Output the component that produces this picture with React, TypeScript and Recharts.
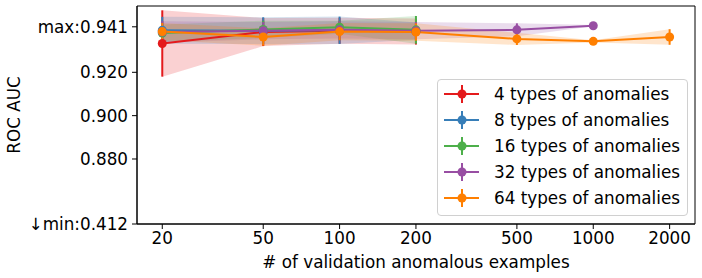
import React from "react"
import {
  ComposedChart,
  Line,
  Area,
  XAxis,
  YAxis,
  ErrorBar,
  ReferenceArea,
  Legend,
  Label,
} from "recharts"

// number of validation anomalous examples, per series
const xRed = [20, 50, 100, 200]
const xBlue = [20, 50, 100, 200]
const xGreen = [20, 50, 100, 200]
const xPurple = [20, 50, 100, 200, 500, 1000]
const xOrange = [20, 50, 100, 200, 500, 1000, 2000]

// mean ROC AUC
const meanRed = [0.9333, 0.9386, 0.9392, 0.9388]
const meanBlue = [0.9394, 0.9392, 0.9394, 0.939]
const meanGreen = [0.9381, 0.9398, 0.9408, 0.9396]
const meanPurple = [0.9386, 0.9392, 0.9396, 0.9392, 0.9396, 0.9415]
const meanOrange = [0.9388, 0.9363, 0.9388, 0.9386, 0.9354, 0.9343, 0.9363]

// std (error bar half-length)
const errRed = [0.0153, 0.0065, 0.006, 0.006]
const errBlue = [0.0062, 0.0062, 0.0063, 0.004]
const errGreen = [0.004, 0.004, 0.003, 0.0064]
const errPurple = [0.005, 0.004, 0.004, 0.004, 0.003, 0.0003]
const errOrange = [0.004, 0.004, 0.004, 0.004, 0.0028, 0.0005, 0.0036]

const names = [
  "4 types of anomalies",
  "8 types of anomalies",
  "16 types of anomalies",
  "32 types of anomalies",
  "64 types of anomalies",
]
const colors = ["#e41a1c", "#377eb8", "#4daf4a", "#984ea3", "#ff7f00"]

const xTicks = [20, 50, 100, 200, 500, 1000, 2000]
const xMinorTicks = [30, 40, 60, 70, 80, 90, 300, 400, 600, 700, 800, 900]
const yTicks = [0.85, 0.88, 0.9, 0.92, 0.941]
const yTickLabels: Record<string, string> = {
  "0.85": "↓min:0.412",
  "0.88": "0.880",
  "0.9": "0.900",
  "0.92": "0.920",
  "0.941": "max:0.941",
}

const toRows = (xs: number[], m: number[], e: number[]) =>
  xs.map((x, i) => ({ x, y: m[i], err: e[i], band: [m[i] - e[i], m[i] + e[i]] }))

const series = [
  toRows(xRed, meanRed, errRed),
  toRows(xBlue, meanBlue, errBlue),
  toRows(xGreen, meanGreen, errGreen),
  toRows(xPurple, meanPurple, errPurple),
  toRows(xOrange, meanOrange, errOrange),
]

const FONT = "DejaVu Sans, sans-serif"
const FS = 16.8
const X_DOMAIN = [15.9, 2518]
const Y_DOMAIN = [0.85, 0.9506]

function LegendBox() {
  return (
    <div
      style={{
        boxSizing: "border-box",
        width: 251,
        height: 137,
        border: "1px solid #d0d0d0",
        borderRadius: 4,
        background: "rgba(255,255,255,0.8)",
        paddingTop: 1,
        fontFamily: FONT,
        fontSize: FS,
        color: "#000",
      }}
    >
      {names.map((n, i) => (
        <div key={n} style={{ height: 26, display: "flex", alignItems: "center" }}>
          <svg width={56} height={26} style={{ flex: "none" }}>
            <line x1={6} x2={41} y1={13} y2={13} stroke={colors[i]} strokeWidth={2} />
            <line x1={24} x2={24} y1={4} y2={22} stroke={colors[i]} strokeWidth={2} />
            <circle cx={24} cy={13} r={4.5} fill={colors[i]} />
          </svg>
          <span style={{ whiteSpace: "nowrap" }}>{n}</span>
        </div>
      ))}
    </div>
  )
}

export default function App() {
  return (
    <div style={{ position: "absolute", left: 0, top: 0, background: "#fff" }}>
      <ComposedChart width={702} height={278} margin={{ top: 6, right: 7, left: 0, bottom: 0 }}>
        <XAxis
          xAxisId="minor"
          type="number"
          scale="log"
          dataKey="x"
          domain={X_DOMAIN}
          allowDataOverflow
          ticks={xMinorTicks}
          tick={false}
          tickSize={3}
          tickLine={{ stroke: "#000" }}
          axisLine={false}
          height={0}
        />
        <XAxis
          type="number"
          scale="log"
          dataKey="x"
          domain={X_DOMAIN}
          allowDataOverflow
          ticks={xTicks}
          interval={0}
          tickSize={5}
          tickMargin={3}
          tick={{ fill: "#000", fontSize: FS, fontFamily: FONT }}
          tickLine={{ stroke: "#000" }}
          axisLine={{ stroke: "#000" }}
          height={54}
        >
          <Label
            value="# of validation anomalous examples"
            position="insideBottom"
            offset={10}
            style={{ fill: "#000", fontSize: FS, fontFamily: FONT }}
          />
        </XAxis>
        <YAxis
          type="number"
          domain={Y_DOMAIN}
          allowDataOverflow
          ticks={yTicks}
          interval={0}
          width={137}
          tickSize={5}
          tickMargin={4}
          tickFormatter={(v: number) => yTickLabels[String(v)] ?? String(v)}
          tick={{ fill: "#000", fontSize: FS, fontFamily: FONT }}
          tickLine={{ stroke: "#000" }}
          axisLine={{ stroke: "#000" }}
        >
          <Label
            value="ROC AUC"
            angle={-90}
            position="insideLeft"
            offset={14}
            style={{ fill: "#000", fontSize: FS, fontFamily: FONT, textAnchor: "middle" }}
          />
        </YAxis>

        {series.map((d, i) => (
          <Area
            key={"band" + i}
            data={d}
            dataKey="band"
            type="linear"
            stroke="none"
            fill={colors[i]}
            fillOpacity={0.2}
            isAnimationActive={false}
            legendType="none"
          />
        ))}
        {series.map((d, i) => (
          <Line
            key={"line" + i}
            data={d}
            dataKey="y"
            name={names[i]}
            type="linear"
            stroke={colors[i]}
            strokeWidth={2}
            dot={{ r: 4.5, fill: colors[i], stroke: colors[i], strokeWidth: 0 }}
            activeDot={false}
            isAnimationActive={false}
          >
            <ErrorBar dataKey="err" width={0} stroke={colors[i]} strokeWidth={2} direction="y" />
          </Line>
        ))}

        <ReferenceArea
          x1={X_DOMAIN[0]}
          x2={X_DOMAIN[1]}
          y1={Y_DOMAIN[0]}
          y2={Y_DOMAIN[1]}
          fill="none"
          fillOpacity={0}
          stroke="#000"
          strokeWidth={1}
          ifOverflow="visible"
        />

        <Legend
          layout="vertical"
          align="center"
          verticalAlign="middle"
          content={() => <LegendBox />}
          wrapperStyle={{ position: "absolute", left: 437, top: 79, width: 251, height: 137 }}
        />
      </ComposedChart>
    </div>
  )
}
